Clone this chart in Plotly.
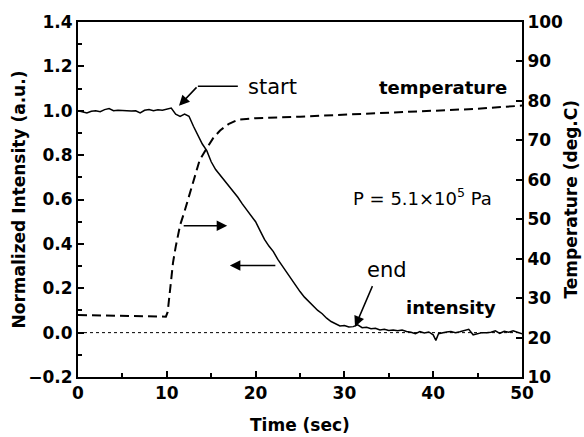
import plotly.graph_objects as go

# ---- data ----
t_int = [0, 0.5, 1.0, 1.5, 2.0, 2.5, 3.0, 3.5, 4.0, 4.5, 5.0, 5.5, 6.0, 6.5, 7.0, 7.5, 8.0, 8.5, 9.0, 9.5,
         10.0, 10.5, 11.0, 11.5, 12.0, 12.5, 13.0, 13.5, 14.0, 14.5, 15.0, 15.5, 16.0, 16.5, 17.0, 17.5,
         18.0, 18.5, 19.0, 19.5, 20.0, 20.5, 21.0, 21.5, 22.0, 22.5, 23.0, 23.5, 24.0, 24.5, 25.0, 25.5,
         26.0, 26.5, 27.0, 27.5, 28.0, 28.5, 29.0, 29.5, 30.0, 30.5, 31.0, 31.5, 32.0, 32.5, 33.0, 33.5,
         34.0, 34.5, 35.0, 35.5, 36.0, 36.5, 37.0, 37.5, 38.0, 38.5, 39.0, 39.5, 40.0, 40.3, 40.6, 41.0,
         41.5, 42.0, 42.5, 43.0, 43.5, 44.0, 44.5, 45.0, 45.5, 46.0, 46.5, 47.0, 47.5, 48.0, 48.5, 49.0,
         49.5, 50.0]
intensity = [1.000, 0.995, 0.990, 0.998, 1.000, 0.996, 1.005, 1.010, 1.000, 1.002, 1.000, 1.001, 0.999,
             1.000, 0.990, 1.002, 1.006, 1.000, 1.004, 1.002, 1.008, 1.012, 0.985, 0.975, 0.985, 0.975,
             0.930, 0.890, 0.850, 0.820, 0.770, 0.735, 0.710, 0.685, 0.660, 0.640, 0.610, 0.580, 0.555,
             0.530, 0.500, 0.460, 0.420, 0.390, 0.365, 0.330, 0.300, 0.270, 0.245, 0.215, 0.185, 0.160,
             0.140, 0.120, 0.100, 0.085, 0.065, 0.050, 0.040, 0.030, 0.032, 0.025, 0.027, 0.035, 0.022,
             0.024, 0.018, 0.020, 0.012, 0.015, 0.010, 0.012, 0.008, 0.012, 0.005, 0.002, -0.005, 0.005,
             -0.002, 0.003, -0.010, -0.035, -0.005, 0.000, 0.003, 0.005, 0.000, 0.004, 0.010, 0.015,
             -0.010, -0.005, 0.000, 0.000, 0.002, 0.008, -0.003, 0.006, 0.002, 0.008, 0.000, -0.005]

t_temp = [0, 9.9, 10.1, 10.4, 10.7, 11.0, 11.5, 12.0, 12.5, 13.0, 13.7, 14.5, 15.2, 16.0, 17.0, 18.0,
          20.0, 25.0, 30.0, 35.0, 40.0, 45.0, 50.0]
temperature = [25.7, 25.3, 26.5, 33.0, 39.0, 43.0, 48.5, 52.0, 56.0, 60.0, 65.0, 68.0, 70.5, 72.5, 74.2,
               75.2, 75.6, 76.0, 76.5, 77.0, 77.5, 78.0, 78.8]

zero_x = [0, 50]
zero_y = [0, 0]

x_ticks = [0, 10, 20, 30, 40, 50]
y_ticks = [-0.2, 0.0, 0.2, 0.4, 0.6, 0.8, 1.0, 1.2, 1.4]
y2_ticks = [10, 20, 30, 40, 50, 60, 70, 80, 90, 100]

FONT = "DejaVu Sans"
BOLD = dict(family=FONT, size=17, color="black", weight="bold")

fig = go.Figure()
fig.add_trace(go.Scatter(x=zero_x, y=zero_y, mode="lines",
                         line=dict(color="black", width=1, dash="3px,3px"), showlegend=False))
fig.add_trace(go.Scatter(x=t_int, y=intensity, mode="lines",
                         line=dict(color="black", width=1.5), showlegend=False))
fig.add_trace(go.Scatter(x=t_temp, y=temperature, mode="lines", yaxis="y2",
                         line=dict(color="black", width=2, dash="9px,5px"), showlegend=False))

axis_common = dict(showline=True, linecolor="black", linewidth=2, ticks="inside", ticklen=6,
                   tickwidth=1.5, tickcolor="black", showgrid=False, zeroline=False,
                   tickfont=BOLD)

fig.update_layout(
    width=584, height=437,
    margin=dict(l=78, r=62, t=22, b=60),
    paper_bgcolor="white", plot_bgcolor="white",
    xaxis=dict(range=[0, 50], tickvals=x_ticks, mirror=True,
               minor=dict(dtick=5, ticks="inside", ticklen=4, tickcolor="black", tickwidth=1.5),
               **axis_common),
    yaxis=dict(range=[-0.2, 1.4], tickvals=y_ticks, tickformat=".1f",
               minor=dict(dtick=0.1, ticks="inside", ticklen=4, tickcolor="black", tickwidth=1.5),
               **axis_common),
    yaxis2=dict(range=[10, 100], tickvals=y2_ticks, overlaying="y", side="right",
                **axis_common),
)

ann_reg = dict(family=FONT, size=21, color="black")
ann_bold = dict(family=FONT, size=18, color="black", weight="bold")
arrow = dict(showarrow=True, arrowhead=2, arrowsize=1.4, arrowwidth=1.5, arrowcolor="black",
             axref="pixel", ayref="pixel", text="")

annotations = [
    dict(x=21.85, y=1.108, text="start", showarrow=False, font=ann_reg),
    dict(x=41.1, y=1.104, text="temperature", showarrow=False, font=ann_bold),
    dict(x=38.85, y=0.613, text="P = 5.1×10<sup>5</sup> Pa", showarrow=False,
         font=dict(family=FONT, size=18, color="black")),
    dict(x=34.8, y=0.284, text="end", showarrow=False, font=ann_reg),
    dict(x=42.0, y=0.113, text="intensity", showarrow=False, font=ann_bold),
    dict(x=11.37, y=1.022, ax=19, ay=-20, **arrow),
    dict(x=16.8, y=0.482, ax=-45, ay=0, **arrow),
    dict(x=17.1, y=0.302, ax=47, ay=0, **arrow),
    dict(x=31.2, y=0.027, ax=18, ay=-42, **arrow),
    dict(x=0.5, y=0, xref="paper", yref="paper", yshift=-48, text="Time (sec)",
         xanchor="center", yanchor="middle", showarrow=False, font=BOLD),
    dict(x=0, y=0.5, xref="paper", yref="paper", xshift=-60, text="Normalized Intensity (a.u.)",
         xanchor="center", yanchor="middle", textangle=-90, showarrow=False, font=BOLD),
    dict(x=1, y=0.5, xref="paper", yref="paper", xshift=48, text="Temperature (deg.C)",
         xanchor="center", yanchor="middle", textangle=-90, showarrow=False, font=BOLD),
]
fig.update_layout(annotations=annotations)
fig.add_shape(type="line", x0=13.5, x1=18.0, y0=1.11, y1=1.11, line=dict(color="black", width=1.5))

fig.write_html("out.html")
